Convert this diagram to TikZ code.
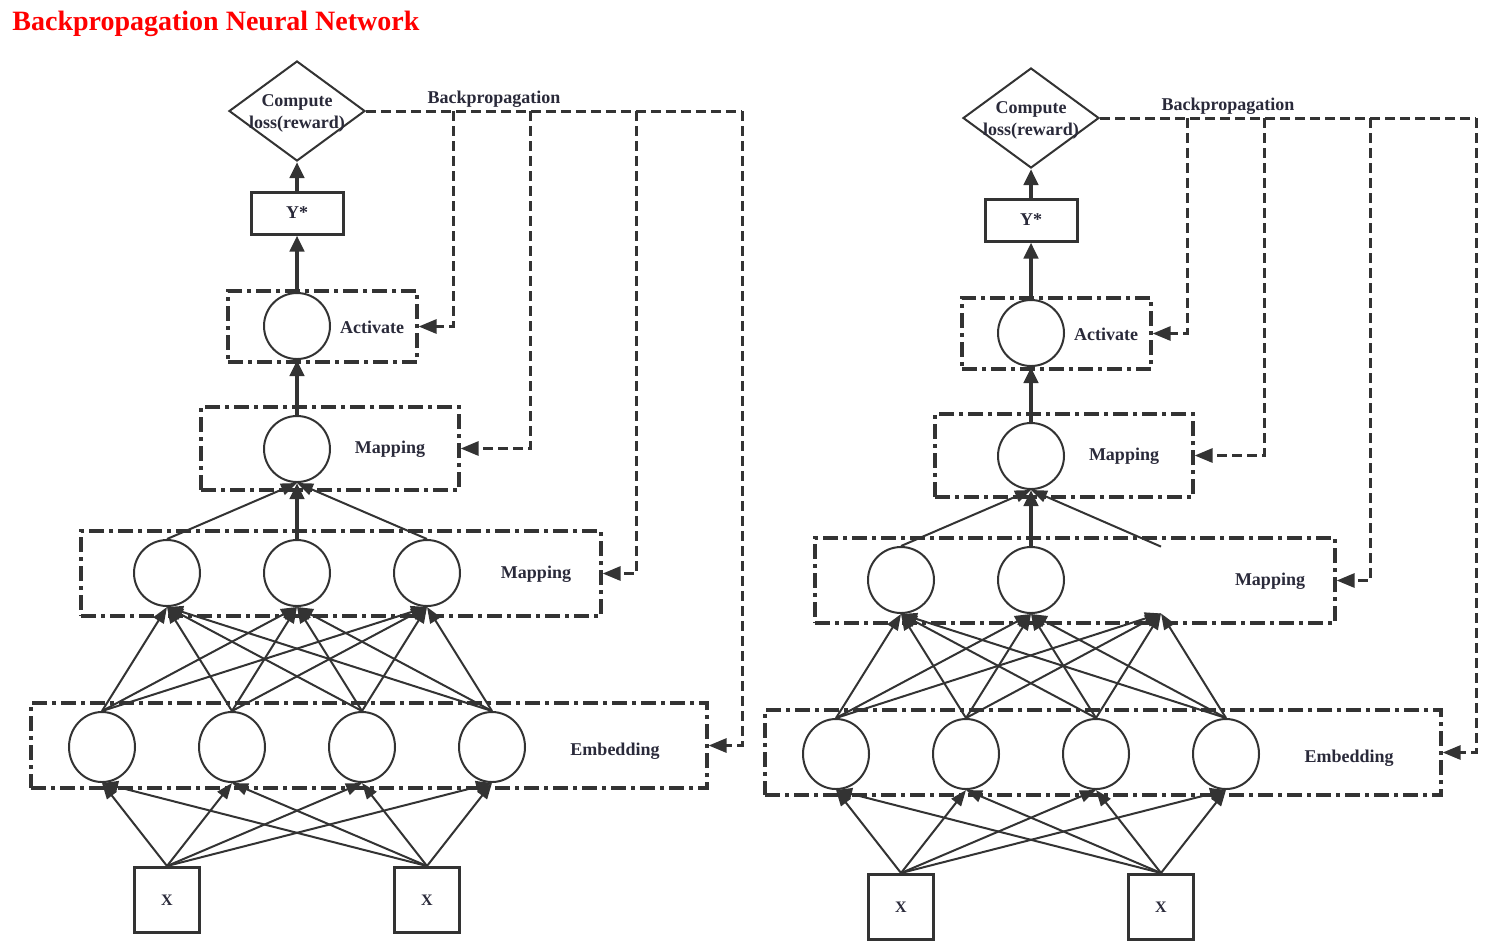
\documentclass[tikz,border=0pt]{standalone}
\usepackage{fontspec}
\setmainfont{Liberation Serif}
\usetikzlibrary{shapes.geometric,arrows.meta}
\definecolor{lc}{HTML}{333333}
\definecolor{tc}{HTML}{2A2A3A}
\tikzset{
  lbl/.style={inner sep=0pt, text=tc, font=\bfseries\fontsize{9}{11}\selectfont},
  neuron/.style={circle, draw=lc, line width=1pt, minimum size=33pt, inner sep=0pt},
  ghost/.style={circle, draw=none, minimum size=33pt, inner sep=0pt},
  eneuron/.style={ellipse, draw=lc, line width=1pt, minimum width=33pt, minimum height=35pt, inner sep=0pt},
  layerbox/.style={draw=lc, line width=1.6pt, dash pattern=on 7.5pt off 2.5pt on 2pt off 2.5pt, inner sep=0pt},
  sqbox/.style={draw=lc, line width=1.5pt, inner sep=0pt, text=tc, font=\bfseries\fontsize{9}{11}\selectfont},
  decision/.style={diamond, draw=lc, line width=1pt, minimum width=68pt, minimum height=50pt, inner sep=0pt},
  conn/.style={draw=lc, line width=1pt, -{Triangle[length=8pt,width=6pt]}},
  mainconn/.style={draw=lc, line width=2pt, -{Triangle[length=8pt,width=7pt]}},
  fbline/.style={draw=lc, line width=1.5pt, dash pattern=on 4.75pt off 2.75pt},
  feedback/.style={fbline, -{Triangle[length=9pt,width=7pt]}}
}
\newcommand{\bpnet}[2]{%
  % top: decision and output
  \node[decision] (#1d) at (297,111) {};
  \node[lbl, align=center] (#1dt) at (297,113) {Compute\\loss(reward)};
  \node[sqbox, minimum width=46pt, minimum height=21pt] (#1y) at (297,213) {Y*};
  % activate layer
  \node[layerbox, minimum width=94.5pt, minimum height=35.5pt] (#1ab) at (322.5,326.5) {};
  \node[neuron] (#1a) at (297,326) {};
  \node[lbl] (#1at) at (372,327) {Activate};
  % mapping layer 1
  \node[layerbox, minimum width=129pt, minimum height=41.5pt] (#1mb) at (330,448.5) {};
  \node[neuron] (#1m) at (297,449) {};
  \node[lbl] (#1mt) at (390,449) {Mapping};
  % mapping layer 2
  \node[layerbox, minimum width=260pt, minimum height=42.5pt] (#1pb) at (341,573.5) {};
  \node[neuron] (#1p1) at (167,573) {};
  \node[neuron] (#1p2) at (297,573) {};
  \node[#2] (#1p3) at (427,573) {};
  \node[lbl] (#1pt) at (536,574) {Mapping};
  % embedding layer
  \node[layerbox, minimum width=338pt, minimum height=42.5pt] (#1eb) at (369,745.5) {};
  \node[eneuron] (#1e1) at (102,747) {};
  \node[eneuron] (#1e2) at (232,747) {};
  \node[eneuron] (#1e3) at (362,747) {};
  \node[eneuron] (#1e4) at (492,747) {};
  \node[lbl] (#1et) at (615,751) {Embedding};
  % inputs
  \node[sqbox, minimum size=32.5pt, font=\bfseries\fontsize{8}{10}\selectfont] (#1x1) at (167,900) {X};
  \node[sqbox, minimum size=32.5pt, font=\bfseries\fontsize{8}{10}\selectfont] (#1x2) at (427,900) {X};
  % forward connectors
  \draw[mainconn] (#1y.north) -- (#1d.south);
  \draw[mainconn] (#1a.north) -- (#1y.south);
  \draw[mainconn] (#1m.north) -- (#1a.south);
  \draw[mainconn] (#1p2.north) -- (#1m.south);
  \draw[conn] (#1p1.north) -- (#1m.south);
  \draw[conn] (#1p3.north) -- (#1m.south);
  \foreach \e in {1,2,3,4}{
    \foreach \p in {1,2,3}{
      \draw[conn] (#1e\e.north) -- (#1p\p.south);
    }
    \draw[conn] (#1x1.north) -- (#1e\e.south);
    \draw[conn] (#1x2.north) -- (#1e\e.south);
  }
  % backpropagation
  \coordinate (#1t1) at (453,111);
  \coordinate (#1t2) at (530,111);
  \coordinate (#1t3) at (636,111);
  \coordinate (#1t4) at (742,111);
  \node[lbl] (#1bt) at (494,99) {Backpropagation};
  \draw[fbline] (#1d.east) -- (#1t4);
  \draw[feedback] (#1t1) |- (#1ab.east);
  \draw[feedback] (#1t2) |- (#1mb.east);
  \draw[feedback] (#1t3) |- (#1pb.east);
  \draw[feedback] (#1t4) |- (#1eb.east);
}
\begin{document}
\begin{tikzpicture}[x=0.5pt, y=-0.5pt]
  \fill[white] (0,0) rectangle (1498,950);
  \useasboundingbox (0,0) rectangle (1498,950);
  \node[anchor=base west, inner sep=0pt, text=red, font=\bfseries\fontsize{14}{16}\selectfont] (title) at (12,30) {Backpropagation Neural Network};
  \begin{scope}
    \bpnet{L}{neuron}
  \end{scope}
  \begin{scope}[shift={(734,7)}]
    \bpnet{R}{ghost}
  \end{scope}
\end{tikzpicture}
\end{document}
